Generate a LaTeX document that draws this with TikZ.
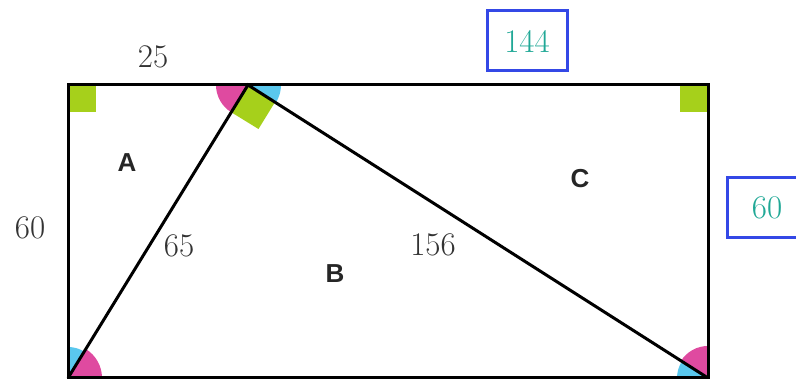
\documentclass[tikz,border=0pt]{standalone}
\usepackage{fontspec}
\usepackage{tikz}
\usetikzlibrary{positioning,calc}
\newfontfamily\regfont{Liberation Sans}
\definecolor{angpink}{RGB}{223,74,160}
\definecolor{angblue}{RGB}{90,200,238}
\definecolor{rtgreen}{RGB}{166,208,27}
\definecolor{lenteal}{RGB}{32,168,150}
\definecolor{boxblue}{RGB}{52,72,230}
\tikzset{
  edgeline/.style={draw=black,line width=3pt},
  angp/.style={fill=angpink},
  angb/.style={fill=angblue},
  rtsq/.style={fill=rtgreen},
  lenlab/.style={font=\fontsize{33}{38}\selectfont,inner sep=0pt,text=black!80},
  boxlab/.style={draw=boxblue,line width=3pt,text=lenteal,minimum width=80pt,minimum height=60pt,font=\fontsize{33}{38}\selectfont},
  reglab/.style={font=\regfont\bfseries\fontsize{26}{30}\selectfont,text=black!85,inner sep=0pt}
}
\begin{document}
\begin{tikzpicture}[x=1pt,y=1pt]
  \useasboundingbox (0,0) rectangle (796,379);
  % corners and the apex on the top side
  \coordinate (bl) at (68,1);
  \coordinate (br) at (708,1);
  \coordinate (tl) at (68,294);
  \coordinate (tr) at (708,294);
  \coordinate (p) at (248,294);
  % angle marks
  \fill[angp] (p) -- ++(180:32) arc[start angle=180,end angle=238.4,radius=32] -- cycle;
  \fill[angb] (p) -- ++(327.5:33) arc[start angle=327.5,end angle=360,radius=33] -- cycle;
  \fill[angp] (bl) -- ++(0:34) arc[start angle=0,end angle=58.4,radius=34] -- cycle;
  \fill[angb] (bl) -- ++(58.4:31) arc[start angle=58.4,end angle=90,radius=31] -- cycle;
  \fill[angp] (br) -- ++(90:32) arc[start angle=90,end angle=147.5,radius=32] -- cycle;
  \fill[angb] (br) -- ++(147.5:31) arc[start angle=147.5,end angle=180,radius=31] -- cycle;
  \fill[rtsq] (p) -- ++(238.4:32) -- ++(328.4:32) -- ++(58.4:32) -- cycle;
  \fill[rtsq] (tl) rectangle ++(28,-27);
  \fill[rtsq] (tr) rectangle ++(-28,-27);
  % sides
  \draw[edgeline] (tl) -- (tr) -- (br) -- (bl) -- cycle;
  \draw[edgeline] (bl) -- (p) -- (br);
  % lengths
  \node[lenlab] (l25) at (153,322) {25};
  \node[lenlab] (l60) at (30,151) {60};
  \node[lenlab] (l65) at (179,133) {65};
  \node[lenlab] (l156) at (433,134) {156};
  \node[boxlab] (b144) at (527,338) {144};
  \node[boxlab] (b60) at (767,171) {60};
  % regions
  \node[reglab] (ra) at (127,216) {A};
  \node[reglab] (rb) at (335,105) {B};
  \node[reglab] (rc) at (580,200) {C};
\end{tikzpicture}
\end{document}
